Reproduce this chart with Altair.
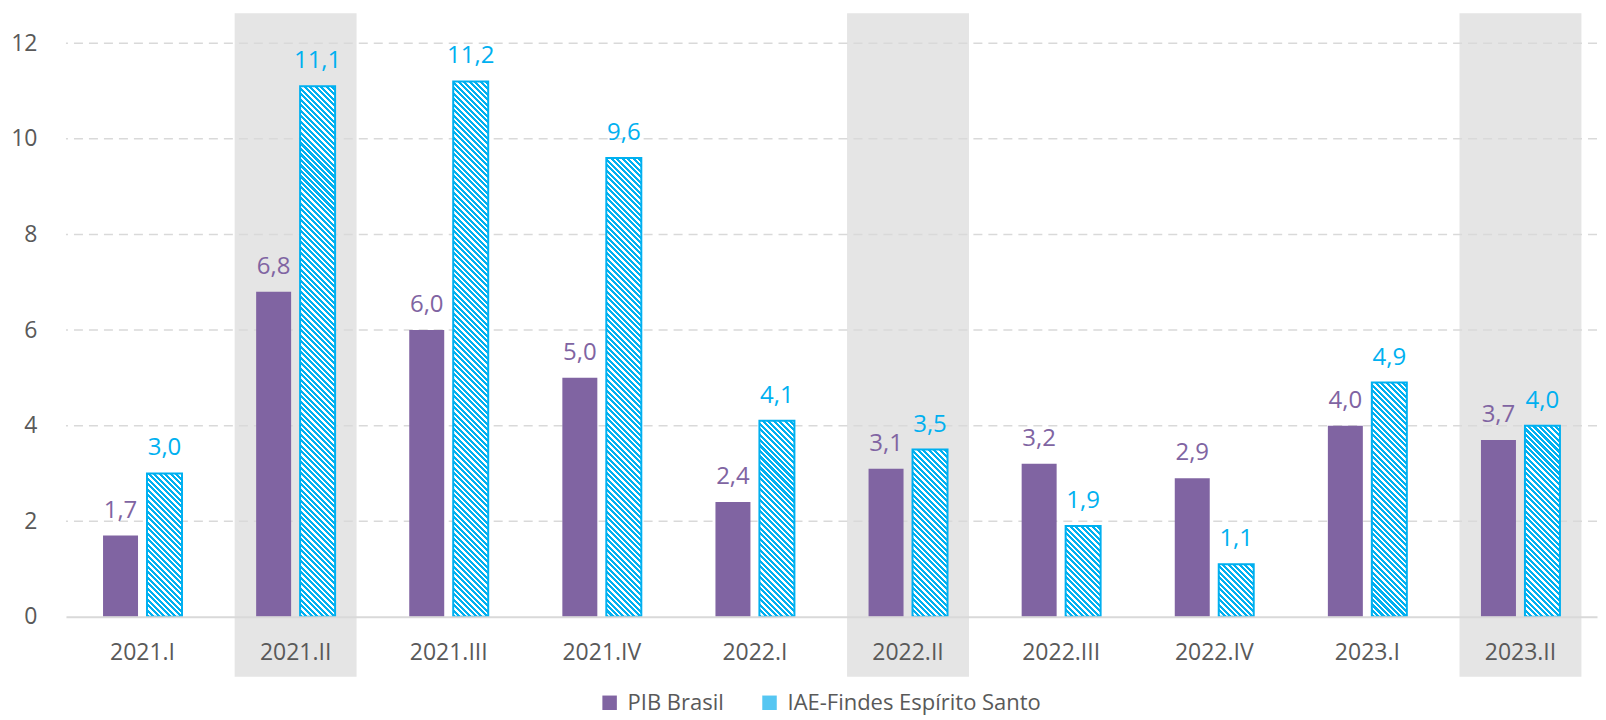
import altair as alt
import pandas as pd

# ---------------- data ----------------
categorias = ["2021.I", "2021.II", "2021.III", "2021.IV", "2022.I",
              "2022.II", "2022.III", "2022.IV", "2023.I", "2023.II"]
pib_brasil = [1.7, 6.8, 6.0, 5.0, 2.4, 3.1, 3.2, 2.9, 4.0, 3.7]
iae_findes = [3.0, 11.1, 11.2, 9.6, 4.1, 3.5, 1.9, 1.1, 4.9, 4.0]
destaques = ["2021.II", "2022.II", "2023.II"]
series = ["PIB Brasil", "IAE-Findes Espírito Santo"]
y_ticks = [0, 2, 4, 6, 8, 10, 12]

# ---------------- style ----------------
W, H = 1532, 574
PURPLE = "#8064a2"
BLUE = "#00b0f0"
GREY_TXT = "#595959"
FONT = "Open Sans"
PAD_IN, SUB_PAD = 0.4843, 0.2045
STEP = W / len(categorias)
BAND = STEP * (1 - PAD_IN)
BAR_W = BAND / (2 - SUB_PAD) * (1 - SUB_PAD)


def fmt(v):
    return f"{v:.1f}".replace(".", ",")


def hatch(v):
    """diagonal stripe fill built from a linear gradient (bounding-box units)"""
    h = v * H / 12.0
    w = BAR_W
    L = w + h
    c = L / (w * w + h * h)
    period, frac = 5.5, 0.55
    stops = []
    k = 0
    t = 0.0
    while t < 1:
        t0 = k * period / L
        t1 = min(1.0, t0 + frac * period / L)
        t2 = min(1.0, (k + 1) * period / L)
        stops += [{"offset": round(t0, 5), "color": BLUE},
                  {"offset": round(t1, 5), "color": BLUE},
                  {"offset": round(t1, 5), "color": "#ffffff"},
                  {"offset": round(t2, 5), "color": "#ffffff"}]
        k += 1
        t = t2
    return {"gradient": "linear", "x1": 0, "y1": 1,
            "x2": round(w * c, 6), "y2": round(1 - h * c, 6), "stops": stops}


df_pib = pd.DataFrame({"cat": categorias, "serie": series[0], "valor": pib_brasil,
                       "rotulo": [fmt(v) for v in pib_brasil]})
df_iae = pd.DataFrame({"cat": categorias, "serie": series[1], "valor": iae_findes,
                       "rotulo": [fmt(v) for v in iae_findes]})
df_band = pd.DataFrame({"cat": destaques})
df_grid = pd.DataFrame({"valor": y_ticks[1:]})

x_enc = alt.X("cat:N", sort=categorias,
              scale=alt.Scale(domain=categorias, paddingInner=PAD_IN, paddingOuter=PAD_IN / 2),
              axis=alt.Axis(title=None, labelAngle=0, labelFontSize=23, labelColor=GREY_TXT,
                            labelFont=FONT, ticks=False, domainColor="#d9d9d9", domainWidth=2,
                            labelPadding=25, zindex=1, grid=False))
xo_enc = alt.XOffset("serie:N", scale=alt.Scale(domain=series, paddingInner=SUB_PAD, paddingOuter=0))
y_enc = alt.Y("valor:Q", scale=alt.Scale(domain=[0, 12], nice=False),
              axis=alt.Axis(title=None, values=y_ticks, grid=False, domain=False, ticks=False,
                            labelFontSize=23, labelColor=GREY_TXT, labelFont=FONT, labelPadding=29))

bands = alt.Chart(df_band).mark_bar(color="#e5e5e5", width=122).encode(
    x=x_enc, y=alt.value(-30), y2=alt.value(634))

grid = alt.Chart(df_grid).mark_rule(color="#d9d9d9", strokeWidth=1.5, strokeDash=[9, 6]).encode(
    y=y_enc)

pib_bars = alt.Chart(df_pib).mark_bar().encode(
    x=x_enc, xOffset=xo_enc, y=y_enc,
    color=alt.Color("serie:N", scale=alt.Scale(domain=series, range=[PURPLE, "#55c6f2"]),
                    legend=alt.Legend(title=None, orient="none", legendX=533, legendY=649,
                                      direction="horizontal", symbolType="square", symbolSize=210,
                                      labelFontSize=22, labelColor=GREY_TXT, labelFont=FONT,
                                      columnPadding=34, labelOffset=7, symbolStrokeWidth=0,
                                      labelLimit=400)))

iae_layers = []
for cat, v in zip(categorias, iae_findes):
    sub = df_iae[df_iae["cat"] == cat]
    iae_layers.append(
        alt.Chart(sub).mark_bar(fill=hatch(v), stroke=BLUE, strokeWidth=2).encode(
            x=x_enc, xOffset=xo_enc, y=y_enc))

txt_pib = alt.Chart(df_pib).mark_text(dy=-18, baseline="alphabetic", fontSize=24, font=FONT,
                                      color=PURPLE).encode(
    x=x_enc, xOffset=xo_enc, y=y_enc, text="rotulo:N")
txt_iae = alt.Chart(df_iae).mark_text(dy=-18, baseline="alphabetic", fontSize=24, font=FONT,
                                      color=BLUE).encode(
    x=x_enc, xOffset=xo_enc, y=y_enc, text="rotulo:N")

chart = alt.layer(bands, grid, pib_bars, *iae_layers, txt_pib, txt_iae).properties(
    width=W, height=H,
    padding={"left": 2, "top": 5, "right": 0, "bottom": 1},
    background="white",
).configure_view(stroke=None)

chart.save("out.html", embed_options={"renderer": "svg", "actions": False})
